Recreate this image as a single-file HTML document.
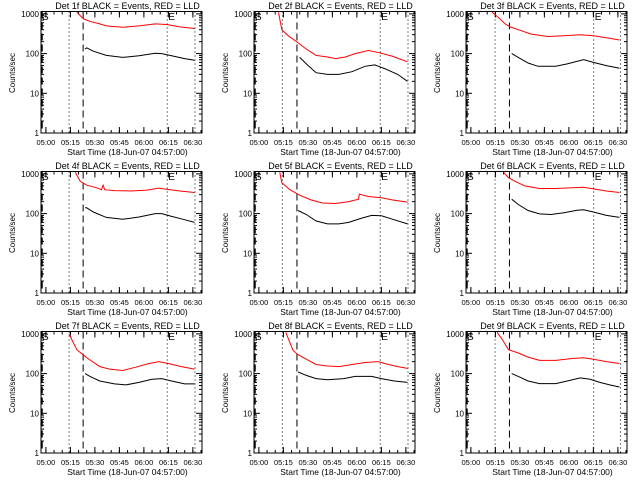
<!DOCTYPE html>
<html><head><meta charset="utf-8">
<style>
html,body{margin:0;padding:0;background:#fff;}
svg{display:block;font-family:"Liberation Sans",sans-serif;}
</style></head>
<body>
<svg id="chart" width="640" height="480" viewBox="0 0 640 480" xmlns="http://www.w3.org/2000/svg"></svg>
<script>
// ---- data (minutes after 04:57:00, counts/sec) ----
const detLabels = ["1f","2f","3f","4f","5f","6f","7f","8f","9f"];
const xTickLabels = ["05:00","05:15","05:30","05:45","06:00","06:15","06:30"];
const xTickMinutes = [3,18,33,48,63,78,93];
const yTickValues = [1,10,100,1000];
const yTickLabels = ["1","10","100","1000"];
const markerTimes = [
 [17.2,25.8,77.3,94.3],[17.4,26.3,77.3,94.3],[17.8,26.6,78.2,94.6],
 [17.2,25.8,77.3,94.3],[17.4,26.3,77.3,94.3],[17.8,26.6,78.2,94.6],
 [17.2,25.8,77.3,94.3],[17.4,26.3,77.3,94.3],[17.8,26.6,78.2,94.6]];
const redTimes = [
 [22,26,30,36,40,50,60,70,77,85,94],
 [15,17,21,26,32,38,45,50,56,62,70,77,85,94],
 [16,20,24,27,32,40,50,60,70,78,86,94],
 [21,24,28,34,37,38,39,45,55,65,72,77,85,94],
 [15.8,17,22,28,35,42,50,58,64,64.5,70,78,85,94],
 [23,26,30,36,45,55,65,72,78,86,94],
 [17.4,19,22,26,30,36,42,50,58,65,72,78,86,94],
 [19.5,22,24,27,32,38,45,52,60,68,76,80,88,94],
 [19,22,26,32,38,45,55,65,72,78,86,94]];
const redValues = [
 [1100,750,650,560,500,460,500,560,540,470,430],
 [1100,400,280,200,130,90,82,75,82,100,120,105,85,62],
 [1100,800,560,470,400,310,270,280,300,280,250,220],
 [1100,650,520,450,400,520,400,380,370,390,440,410,370,340],
 [1100,600,400,290,220,185,180,200,230,310,270,250,220,195],
 [1100,800,650,500,430,430,450,460,420,370,340],
 [1000,700,400,290,220,150,130,120,145,175,200,180,150,130],
 [1100,600,380,300,230,170,155,150,170,190,200,180,150,135],
 [1100,750,400,330,260,215,215,240,250,230,200,180]];
const blackTimes = [
 [27,28,32,40,50,60,70,74,80,88,94],
 [28,32,38,45,52,60,68,74,80,88,94],
 [28,32,38,44,55,62,72,78,86,94],
 [27,28,32,40,50,60,70,74,80,88,94],
 [27,32,38,45,52,58,65,72,78,85,94],
 [28,32,38,45,52,60,68,72,78,86,94],
 [27,30,36,45,52,60,68,74,80,88,94],
 [27,32,38,45,55,62,72,78,86,94],
 [28,32,38,45,55,62,70,76,82,88,94]];
const blackValues = [
 [130,140,115,90,80,88,102,100,88,75,68],
 [80,55,33,30,30,35,48,52,42,30,20],
 [100,80,58,48,48,55,70,60,50,43],
 [140,140,110,80,72,82,100,100,85,70,60],
 [120,95,65,55,55,60,75,90,88,72,55],
 [230,170,120,98,95,105,122,125,110,90,80],
 [100,85,65,55,52,60,72,75,65,55,55],
 [110,90,75,70,75,85,85,75,65,60],
 [100,85,65,56,56,65,78,72,60,52,46]];

// ---- drawing ----
const NS="http://www.w3.org/2000/svg";
const svg=document.getElementById('chart');
function mk(tag,attrs,parent){const e=document.createElementNS(NS,tag);for(const k in attrs)e.setAttribute(k,attrs[k]);(parent||svg).appendChild(e);return e;}
const colX=[41,254,466], rowY=[0,160,320];
const PW=161, PXMIN=1.633, TOP=11.5, BOT=133, DEC=39.7;

for(let p=0;p<9;p++){
  const x0=colX[p%3], oy=rowY[Math.floor(p/3)];
  const xs=t=>x0+t*PXMIN;
  const ys=v=>oy+BOT-Math.log10(v)*DEC;
  const g=mk('g',{});
  
  
  const title=mk('text',{x:x0+PW/2+6,y:oy+9,'font-size':9,'text-anchor':'middle',fill:'#000'},g);
  title.textContent='Det '+detLabels[p]+' BLACK = Events, RED = LLD';
  
  
  const box=mk('rect',{x:x0,y:oy+TOP,width:PW,height:BOT-TOP,fill:'none',stroke:'#000','stroke-width':1},g);
  
  
  for(let d=0;d<3;d++){for(let m=2;m<=9;m++){const yy=ys(m*Math.pow(10,d));
    mk('line',{x1:x0,x2:x0+3,y1:yy,y2:yy,stroke:'#000'},g);mk('line',{x1:x0+PW,x2:x0+PW-3,y1:yy,y2:yy,stroke:'#000'},g);}}
  yTickValues.forEach((v,i)=>{const yy=ys(v);
    mk('line',{x1:x0,x2:x0+6,y1:yy,y2:yy,stroke:'#000'},g);mk('line',{x1:x0+PW,x2:x0+PW-6,y1:yy,y2:yy,stroke:'#000'},g);
    const t=mk('text',{x:x0-2,y:yy+3,'font-size':8,'text-anchor':'end'},g);t.textContent=yTickLabels[i];
    
    });
  for(let m=0;m<=98;m+=5){const xx=xs(m+3);if(xx>x0+PW)break;mk('line',{x1:xx,x2:xx,y1:oy+BOT,y2:oy+BOT-3,stroke:'#000'},g);mk('line',{x1:xx,x2:xx,y1:oy+TOP,y2:oy+TOP+3,stroke:'#000'},g);}
  xTickMinutes.forEach((m,i)=>{const xx=xs(m);
    mk('line',{x1:xx,x2:xx,y1:oy+BOT,y2:oy+BOT-6,stroke:'#000'},g);mk('line',{x1:xx,x2:xx,y1:oy+TOP,y2:oy+TOP+6,stroke:'#000'},g);
    const t=mk('text',{x:xx,y:oy+145,'font-size':7.5,'text-anchor':'middle'},g);t.textContent=xTickLabels[i];
    
    });
  const xl=mk('text',{x:x0+PW/2+6,y:oy+155,'font-size':8.5,'text-anchor':'middle'},g);
  xl.textContent='Start Time (18-Jun-07 04:57:00)';
  
  
  const yl=mk('text',{x:0,y:0,'font-size':8,'text-anchor':'middle',transform:`translate(${x0-26},${oy+73}) rotate(-90)`},g);
  yl.textContent='Counts/sec';
  
  
  const s=mk('text',{x:x0+1,y:oy+20,'font-size':10},g);s.textContent='S';
  
  
  const e=mk('text',{x:xs(markerTimes[p][2])+1,y:oy+20,'font-size':10},g);e.textContent='E';
  
  
  markerTimes[p].forEach((m,i)=>{const xx=xs(m);
    const l=mk('line',{x1:xx,x2:xx,y1:oy+TOP,y2:oy+BOT,stroke:'#000','stroke-width':1,'stroke-dasharray':i===1?'7,4':'1,3'},g);
    
    });
  mk('line',{x1:x0+1,x2:x0+1,y1:oy+TOP,y2:oy+BOT,stroke:'#000','stroke-width':1.5,'stroke-dasharray':'7,4'},g);
  const clipTop=oy+TOP;
  const rp=redTimes[p].map((t,i)=>xs(t).toFixed(1)+','+Math.max(clipTop,ys(redValues[p][i])).toFixed(1)).join(' ');
  const red=mk('polyline',{points:rp,fill:'none',stroke:'#ff0000','stroke-width':1},g);
  
  
  const bp=blackTimes[p].map((t,i)=>xs(t).toFixed(1)+','+ys(blackValues[p][i]).toFixed(1)).join(' ');
  const blk=mk('polyline',{points:bp,fill:'none',stroke:'#000','stroke-width':1},g);
  
  
}
</script>
</body></html>
